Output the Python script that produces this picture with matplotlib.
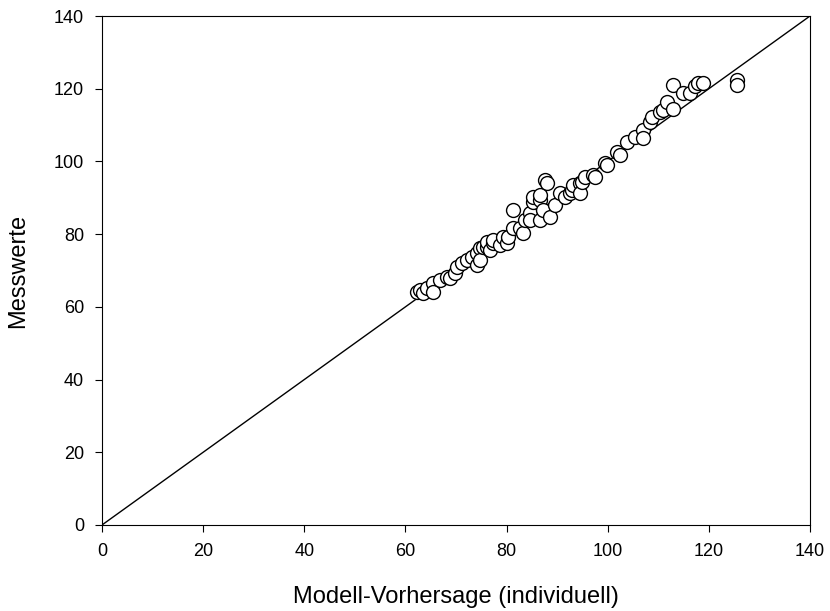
import matplotlib
matplotlib.use("Agg")
import matplotlib.pyplot as plt

plt.rcParams['font.family'] = ['Liberation Sans', 'DejaVu Sans']

vorhersage = [62.3, 62.9, 63.5, 64.3, 65.5, 65.5, 66.8, 68.2, 68.8, 69.8, 70.2, 71.2,
              72.2, 73.2, 74.2, 74.2, 74.7, 74.7, 75.3, 76.1, 76.1, 76.7, 77.3, 77.3,
              78.7, 79.3, 80.1, 80.3, 81.3, 81.3, 82.7, 83.3, 83.6, 84.6, 84.6, 85.2,
              85.2, 86.6, 86.6, 86.6, 87.2, 87.6, 88.0, 88.6, 89.6, 90.6, 91.6, 92.5,
              92.9, 93.1, 94.5, 94.5, 94.9, 95.5, 97.1, 97.5, 99.5, 99.9, 101.8, 102.4,
              103.8, 105.4, 107.0, 107.0, 108.4, 108.8, 110.4, 110.9, 111.7, 112.9, 112.9,
              114.9, 116.3, 117.3, 117.9, 118.8, 125.6, 125.6]
messwerte = [64.1, 64.6, 63.8, 65.2, 66.6, 64.1, 67.4, 68.2, 67.9, 69.3, 71.0, 72.0,
             72.9, 73.7, 74.8, 71.5, 76.2, 72.9, 76.5, 76.5, 77.8, 75.6, 77.6, 78.4,
             77.0, 79.2, 77.6, 79.2, 86.6, 81.7, 81.7, 80.3, 83.9, 85.8, 83.9, 88.8,
             90.2, 89.4, 83.9, 90.8, 86.6, 94.9, 94.0, 84.7, 88.0, 91.3, 90.2, 91.3,
             92.1, 93.5, 94.0, 91.3, 94.3, 95.7, 96.3, 95.7, 99.6, 99.0, 102.6, 101.8,
             105.3, 106.7, 108.6, 106.4, 110.8, 112.2, 113.6, 114.1, 116.3, 121.0, 114.4,
             118.8, 118.8, 120.7, 121.6, 121.6, 122.4, 121.0]

fig = plt.figure(figsize=(8.3, 6.11), dpi=100)
ax = fig.add_axes([0.1229, 0.1408, 0.853, 0.8330])

ax.plot([0, 140], [0, 140], color='black', lw=1)
ax.scatter(vorhersage, messwerte, s=100, facecolor='white', edgecolor='black',
           linewidth=1, zorder=3)

ax.set_xlim(0, 140)
ax.set_ylim(0, 140)
ax.set_xticks(range(0, 141, 20))
ax.set_yticks(range(0, 141, 20))
ax.tick_params(direction='out', length=5, pad=8, labelsize=13, top=False, right=False)
ax.set_xlabel('Modell-Vorhersage (individuell)', fontsize=17, labelpad=19)
ax.set_ylabel('Messwerte', fontsize=17, labelpad=18)

fig.savefig('out.png', dpi=100)
